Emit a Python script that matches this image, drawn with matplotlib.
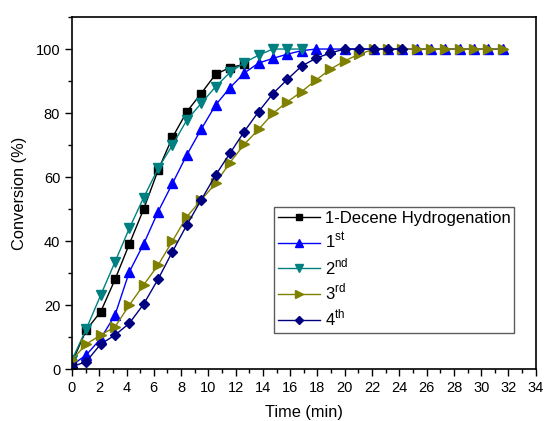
import matplotlib
matplotlib.use("Agg")
import matplotlib.pyplot as plt
from matplotlib.ticker import MultipleLocator

plt.rcParams['font.family'] = ['Liberation Sans', 'DejaVu Sans']

# Sampling times (min)
time = [0, 1.05, 2.11, 3.16, 4.21, 5.26, 6.32, 7.37, 8.42, 9.47, 10.53,
        11.58, 12.63, 13.68, 14.74, 15.79, 16.84, 17.89, 18.95, 20.0, 21.05,
        22.11, 23.16, 24.21, 25.26, 26.32, 27.37, 28.42, 29.47, 30.53, 31.58]

decene = [2, 12.2, 17.9, 28.0, 39.1, 50.0, 62.2, 72.4, 80.4, 86.1, 92.1, 94.2, 95.2]
run1 = [1.2, 4.4, 9.5, 16.9, 30.4, 39.1, 49.2, 58.0, 66.9, 74.9, 82.5, 87.9, 92.5,
        95.6, 97.1, 98.4, 99.5, 100, 100, 100, 100, 100, 100, 100, 100, 100,
        100, 100, 100, 100, 100]
run2 = [2.8, 12.5, 23.1, 33.5, 44.0, 53.6, 62.7, 70.0, 77.8, 83.0, 88.2, 92.7,
        95.7, 98.1, 100, 100, 100]
run3 = [2.8, 7.8, 10.6, 13.2, 20.0, 26.3, 32.5, 40.0, 47.6, 52.8, 58.0, 64.5,
        70.2, 74.9, 79.9, 83.5, 86.7, 90.3, 93.7, 96.3, 98.4, 99.9, 100, 100,
        100, 100, 100, 100, 100, 100, 100]
run4 = [0.7, 2.3, 7.8, 10.6, 14.3, 20.3, 28.1, 36.7, 45.0, 52.8, 60.6, 67.4,
        74.2, 80.4, 86.1, 90.5, 94.7, 97.1, 98.8, 100, 100, 100, 100, 100]

labels = ['1-Decene Hydrogenation', r'1$^{\mathregular{st}}$', r'2$^{\mathregular{nd}}$',
          r'3$^{\mathregular{rd}}$', r'4$^{\mathregular{th}}$']

fig = plt.figure(figsize=(5.45, 4.21), dpi=100)
ax = fig.add_axes([0.132, 0.1235, 0.851, 0.836])

series = [
    (decene, 'black', 's', 6),
    (run1, '#0000FF', '^', 7),
    (run2, '#008080', 'v', 7),
    (run3, '#808000', '>', 7),
    (run4, '#000080', 'D', 5.5),
]
for (vals, c, m, ms), lab in zip(series, labels):
    ax.plot(time[:len(vals)], vals, color=c, marker=m, ms=ms, lw=1.0,
            mec=c, mfc=c, label=lab)

ax.set_xlim(0, 34)
ax.set_ylim(0, 110)
ax.xaxis.set_major_locator(MultipleLocator(2))
ax.xaxis.set_minor_locator(MultipleLocator(1))
ax.yaxis.set_major_locator(MultipleLocator(20))
ax.yaxis.set_minor_locator(MultipleLocator(10))
ax.set_yticks([0, 20, 40, 60, 80, 100])
ax.tick_params(which='both', direction='out', top=False, right=False,
               labelsize=10.5, width=1.0)
ax.tick_params(which='major', length=5)
ax.tick_params(which='minor', length=3)
for s in ax.spines.values():
    s.set_linewidth(1.2)

ax.set_xlabel('Time (min)', fontsize=11.8, labelpad=7)
ax.set_ylabel('Conversion (%)', fontsize=11.8, labelpad=6)

leg = ax.legend(loc='upper left', bbox_to_anchor=(0.435, 0.46), fontsize=12,
                frameon=True, fancybox=False, edgecolor='#333333',
                handlelength=2.5, handletextpad=0.3, borderpad=0.25,
                labelspacing=0.3, markerscale=0.75, borderaxespad=0)
leg.get_frame().set_linewidth(1.0)

fig.savefig('out.png', dpi=100)
